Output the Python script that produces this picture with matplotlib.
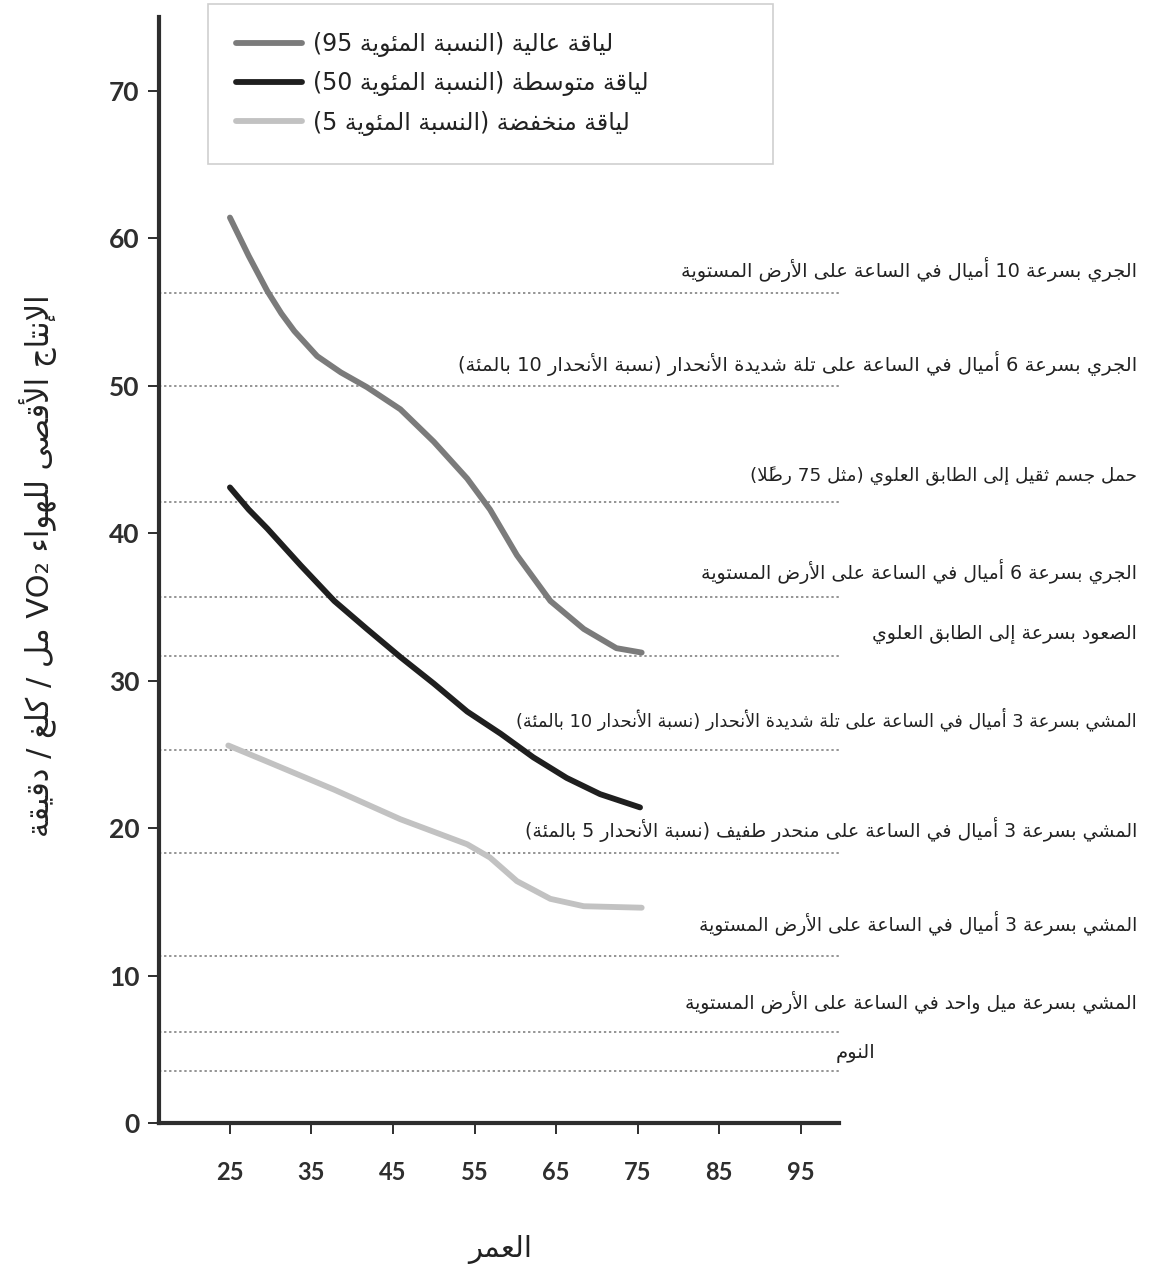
"""
VO2 max by age for three fitness levels, with the oxygen cost of everyday
activities drawn as dotted reference lines.
"""

import matplotlib
matplotlib.use("Agg")
import matplotlib.pyplot as plt
import matplotlib.transforms as mtransforms

# ---- data -------------------------------------------------------------
age_ticks = [25, 35, 45, 55, 65, 75, 85, 95]
vo2_ticks = [0, 10, 20, 30, 40, 50, 60, 70]

ages_high = [25, 27.3, 29.6, 31.3, 32.9, 35.7, 38.6, 41.8, 45.9, 50.0, 54.1, 56.9, 60.2, 64.3, 68.4, 72.4, 75.5]
vo2_high = [61.4, 58.8, 56.4, 54.9, 53.7, 52.0, 50.9, 49.9, 48.4, 46.2, 43.7, 41.6, 38.5, 35.4, 33.5, 32.2, 31.9]

ages_mid = [25, 27.3, 29.6, 33.7, 37.8, 41.8, 45.9, 50.0, 54.1, 58.2, 62.2, 66.3, 70.4, 75.3]
vo2_mid = [43.1, 41.6, 40.3, 37.8, 35.4, 33.5, 31.6, 29.8, 27.9, 26.4, 24.8, 23.4, 22.3, 21.4]

ages_low = [24.8, 29.6, 37.8, 45.9, 54.1, 56.9, 60.2, 64.3, 68.4, 75.5]
vo2_low = [25.6, 24.5, 22.6, 20.6, 18.9, 18.0, 16.4, 15.2, 14.7, 14.6]

series_names = [
    "لياقة عالية (النسبة المئوية 95)",
    "لياقة متوسطة (النسبة المئوية 50)",
    "لياقة منخفضة (النسبة المئوية 5)",
]

activity_vo2 = [56.3, 50.0, 42.1, 35.7, 31.7, 25.3, 18.3, 11.3, 6.2, 3.5]
activity_names = [
    "الجري بسرعة 10 أميال في الساعة على الأرض المستوية",
    "الجري بسرعة 6 أميال في الساعة على تلة شديدة الأنحدار (نسبة الأنحدار 10 بالمئة)",
    "حمل جسم ثقيل إلى الطابق العلوي (مثل 75 رطلاً)",
    "الجري بسرعة 6 أميال في الساعة على الأرض المستوية",
    "الصعود بسرعة إلى الطابق العلوي",
    "المشي بسرعة 3 أميال في الساعة على تلة شديدة الأنحدار (نسبة الأنحدار 10 بالمئة)",
    "المشي بسرعة 3 أميال في الساعة على منحدر طفيف (نسبة الأنحدار 5 بالمئة)",
    "المشي بسرعة 3 أميال في الساعة على الأرض المستوية",
    "المشي بسرعة ميل واحد في الساعة على الأرض المستوية",
    "النوم",
]

x_title = "العمر"
y_title = "الإنتاج الأقصى للهواء VO₂ مل / كلغ / دقيقة"

# label layout: lift above the dotted line (points) and font size
label_raise = [17, 16, 19, 18, 15, 22, 17, 24, 21, 13]
label_size = [13.9, 14, 13.2, 13.6, 13.6, 12.8, 13.6, 13.5, 13.5, 14]

# ---- minimal Arabic shaping (matplotlib has no text shaping) ----------
# letter -> (first presentation form, number of forms)
FORMS = {
    'ء': (0xFE80, 1), 'آ': (0xFE81, 2), 'أ': (0xFE83, 2), 'ؤ': (0xFE85, 2),
    'إ': (0xFE87, 2), 'ئ': (0xFE89, 4), 'ا': (0xFE8D, 2), 'ب': (0xFE8F, 4),
    'ة': (0xFE93, 2), 'ت': (0xFE95, 4), 'ث': (0xFE99, 4), 'ج': (0xFE9D, 4),
    'ح': (0xFEA1, 4), 'خ': (0xFEA5, 4), 'د': (0xFEA9, 2), 'ذ': (0xFEAB, 2),
    'ر': (0xFEAD, 2), 'ز': (0xFEAF, 2), 'س': (0xFEB1, 4), 'ش': (0xFEB5, 4),
    'ص': (0xFEB9, 4), 'ض': (0xFEBD, 4), 'ط': (0xFEC1, 4), 'ظ': (0xFEC5, 4),
    'ع': (0xFEC9, 4), 'غ': (0xFECD, 4), 'ف': (0xFED1, 4), 'ق': (0xFED5, 4),
    'ك': (0xFED9, 4), 'ل': (0xFEDD, 4), 'م': (0xFEE1, 4), 'ن': (0xFEE5, 4),
    'ه': (0xFEE9, 4), 'و': (0xFEED, 2), 'ى': (0xFEEF, 2), 'ي': (0xFEF1, 4),
}
LAM_ALEF = {'آ': 0xFEF5, 'أ': 0xFEF7, 'إ': 0xFEF9, 'ا': 0xFEFB}
MARKS = set('\u064B\u064C\u064D\u064E\u064F\u0650\u0651\u0652')
MIRROR = {'(': ')', ')': '('}
LTR_CHARS = set('0123456789ABCDEFGHIJKLMNOPQRSTUVWXYZabcdefghijklmnopqrstuvwxyz₂.')


def _joins_next(c):
    return c in FORMS and FORMS[c][1] == 4


def _joins_prev(c):
    return isinstance(c, tuple) or (c in FORMS and FORMS[c][1] > 1)


def ar(text):
    """Return a visually ordered, shaped version of an Arabic string."""
    units = []
    for ch in text:
        if ch in MARKS and units:
            units[-1][1] += ch
        else:
            units.append([ch, ''])
    merged = []
    i = 0
    while i < len(units):
        ch, mk = units[i]
        if ch == 'ل' and i + 1 < len(units) and units[i + 1][0] in LAM_ALEF:
            merged.append([('LA', units[i + 1][0]), mk + units[i + 1][1]])
            i += 2
        else:
            merged.append([ch, mk])
            i += 1

    glyphs = []
    for i, (ch, mk) in enumerate(merged):
        prev = merged[i - 1][0] if i > 0 else ''
        nxt = merged[i + 1][0] if i + 1 < len(merged) else ''
        p = _joins_prev(ch) and not isinstance(prev, tuple) and _joins_next(prev)
        if isinstance(ch, tuple):
            g = chr(LAM_ALEF[ch[1]] + (1 if p else 0))
        elif ch in FORMS:
            base, nf = FORMS[ch]
            n = nf == 4 and _joins_prev(nxt)
            if nf == 1:
                g = chr(base)
            elif nf == 2:
                g = chr(base + (1 if p else 0))
            else:
                g = chr(base + (3 if p and n else 1 if p else 2 if n else 0))
        else:
            g = ch
        glyphs.append((ch, g + mk))

    # simple bidi: keep runs of latin letters / digits left-to-right
    runs = []
    for ch, g in glyphs:
        ltr = isinstance(ch, str) and ch in LTR_CHARS
        if runs and runs[-1][0] == ltr:
            runs[-1][1].append(g)
        else:
            runs.append([ltr, [g]])
    out = []
    for ltr, gs in reversed(runs):
        if ltr:
            out.extend(gs)
        else:
            out.extend(MIRROR.get(g, g) for g in reversed(gs))
    return ''.join(out)


# ---- figure -----------------------------------------------------------
W, H = 1155, 1277
fig = plt.figure(figsize=(W / 100, H / 100), dpi=100)
ax = fig.add_axes([159 / W, 1 - 1123 / H, (839 - 159) / W, (1123 - 17) / H])

ink = '#2e2e2e'
ax.set_xlim(16.3, 99.7)
ax.set_ylim(0, 75)

for v in activity_vo2:
    ax.axhline(v, color='#949494', lw=1.4, ls=(0, (1.2, 1.4)), zorder=1)

h1, = ax.plot(ages_high, vo2_high, color='#7b7b7b', lw=4.2, solid_capstyle='round',
              solid_joinstyle='round', zorder=3)
h2, = ax.plot(ages_mid, vo2_mid, color='#1f1f1f', lw=4.2, solid_capstyle='round',
              solid_joinstyle='round', zorder=3)
h3, = ax.plot(ages_low, vo2_low, color='#c2c2c2', lw=4.2, solid_capstyle='round',
              solid_joinstyle='round', zorder=3)

for side in ('top', 'right'):
    ax.spines[side].set_visible(False)
for side in ('left', 'bottom'):
    ax.spines[side].set_linewidth(3)
    ax.spines[side].set_color(ink)

ax.set_xticks(age_ticks)
ax.set_yticks(vo2_ticks)
ax.tick_params(axis='both', length=8, width=1.4, color=ink, labelcolor=ink)
ax.tick_params(axis='x', pad=19)
ax.tick_params(axis='y', pad=6)
for lab in ax.get_xticklabels():
    lab.set_fontfamily('Lato')
    lab.set_fontweight('bold')
    lab.set_fontsize(17)
for lab in ax.get_yticklabels():
    lab.set_fontfamily('Lato')
    lab.set_fontweight('bold')
    lab.set_fontsize(19)

# activity labels, right aligned near the figure edge
trans = mtransforms.blended_transform_factory(fig.transFigure, ax.transData)
for v, name, dy, fs in zip(activity_vo2[:-1], activity_names[:-1],
                           label_raise[:-1], label_size[:-1]):
    ax.annotate(ar(name), xy=(1137 / W, v), xycoords=trans, xytext=(0, dy),
                textcoords='offset points', ha='right', va='center',
                fontsize=fs, color='#222222', family='DejaVu Sans', annotation_clip=False)
ax.annotate(ar(activity_names[-1]), xy=(836 / W, activity_vo2[-1]), xycoords=trans,
            xytext=(0, label_raise[-1]), textcoords='offset points', ha='left', va='center',
            fontsize=label_size[-1], color='#222222', family='DejaVu Sans',
            annotation_clip=False)

fig.text(500 / W, 1 - 1250 / H, ar(x_title), ha='center', va='center',
         fontsize=21, color='#222222', family='DejaVu Sans')
fig.text(38 / W, 1 - 566 / H, ar(y_title), ha='center', va='center', rotation=90,
         fontsize=22, color='#222222', family='DejaVu Sans')

leg = ax.legend([h1, h2, h3], [ar(s) for s in series_names],
                loc='upper left', bbox_to_anchor=(208 / W, 1 - 4 / H, (773 - 208) / W, 0),
                bbox_transform=fig.transFigure, mode='expand', borderaxespad=0,
                fontsize=17, handlelength=2.8, handletextpad=0.45, labelspacing=0.6,
                borderpad=1.2, fancybox=False, edgecolor='#cfcfcf', framealpha=1)
leg.get_frame().set_linewidth(1.2)
for t in leg.get_texts():
    t.set_color('#222222')

fig.savefig('out.png', dpi=100)
